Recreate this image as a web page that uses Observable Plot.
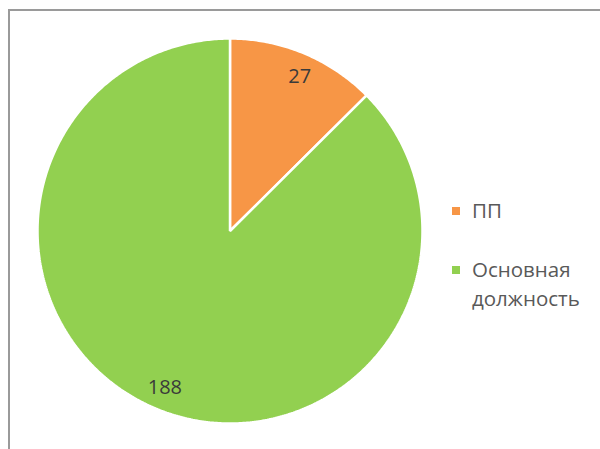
<!DOCTYPE html>
<html>
<head>
<meta charset="utf-8">
<script src="https://cdn.jsdelivr.net/npm/d3@7"></script>
<script src="https://cdn.jsdelivr.net/npm/@observablehq/plot@0.6"></script>
<style>
  html, body { margin: 0; padding: 0; background: #fff; }
  #wrap { position: relative; width: 600px; height: 449px; overflow: hidden; font-family: "Open Sans", sans-serif; }
  #frame { position: absolute; left: 8px; top: 9px; width: 700px; height: 600px; border-left: 2px solid #9a9a9a; border-top: 2px solid #9a9a9a; pointer-events: none; }
  #chart { position: absolute; left: 0; top: 0; }
  #legend { position: absolute; left: 452px; top: 196px; color: #595959; font-size: 20.5px; }
  .item { position: relative; padding-left: 20px; line-height: 29px; }
  .sw { position: absolute; left: 0; top: 11px; width: 8px; height: 8px; }
</style>
</head>
<body>
<div id="wrap">
  <div id="chart"></div>
  <div id="frame"></div>
  <div id="legend"></div>
</div>
<script>
const categories = ["ПП", "Основная должность"];
const legendLabels = ["ПП", "Основная<br>должность"];
const values = [27, 188];
const colors = ["#F79646", "#92D050"];

const pie = d3.pie().sort(null).value(d => d.value);
const arcs = pie(categories.map((c, i) => ({category: c, value: values[i]})));

// polygon points for each slice (angles measured clockwise from top)
const pts = [];
arcs.forEach(a => {
  const c = a.data.category;
  pts.push({category: c, x: 0, y: 0});
  const n = Math.max(2, Math.ceil((a.endAngle - a.startAngle) / 0.01));
  for (let k = 0; k <= n; k++) {
    const t = a.startAngle + (a.endAngle - a.startAngle) * k / n;
    pts.push({category: c, x: Math.sin(t), y: Math.cos(t)});
  }
});
const labels = arcs.map((a, i) => {
  const m = (a.startAngle + a.endAngle) / 2 + (i === 0 ? 0.03 : 0);
  return {label: String(a.data.value), x: 0.88 * Math.sin(m), y: 0.88 * Math.cos(m)};
});

const chart = Plot.plot({
  width: 600,
  height: 449,
  marginLeft: 37,
  marginRight: 178,
  marginTop: 38,
  marginBottom: 26,
  x: {domain: [-1, 1], axis: null},
  y: {domain: [-1, 1], axis: null},
  color: {domain: categories, range: colors},
  style: {fontFamily: "Open Sans, sans-serif", background: "transparent"},
  marks: [
    Plot.line(pts, {x: "x", y: "y", z: "category", fill: "category", stroke: "white", strokeWidth: 2.5, curve: "linear-closed", strokeLinejoin: "miter"}),
    Plot.text(labels, {x: "x", y: "y", text: "label", fontSize: 20, fill: "#3a3a3a"})
  ]
});
document.getElementById("chart").appendChild(chart);

const lg = document.getElementById("legend");
categories.forEach((c, i) => {
  const it = document.createElement("div");
  it.className = "item";
  it.style.marginBottom = i === 0 ? "30px" : "0";
  it.innerHTML = `<span class="sw" style="background:${colors[i]}"></span>${legendLabels[i]}`;
  lg.appendChild(it);
});
</script>
</body>
</html>
